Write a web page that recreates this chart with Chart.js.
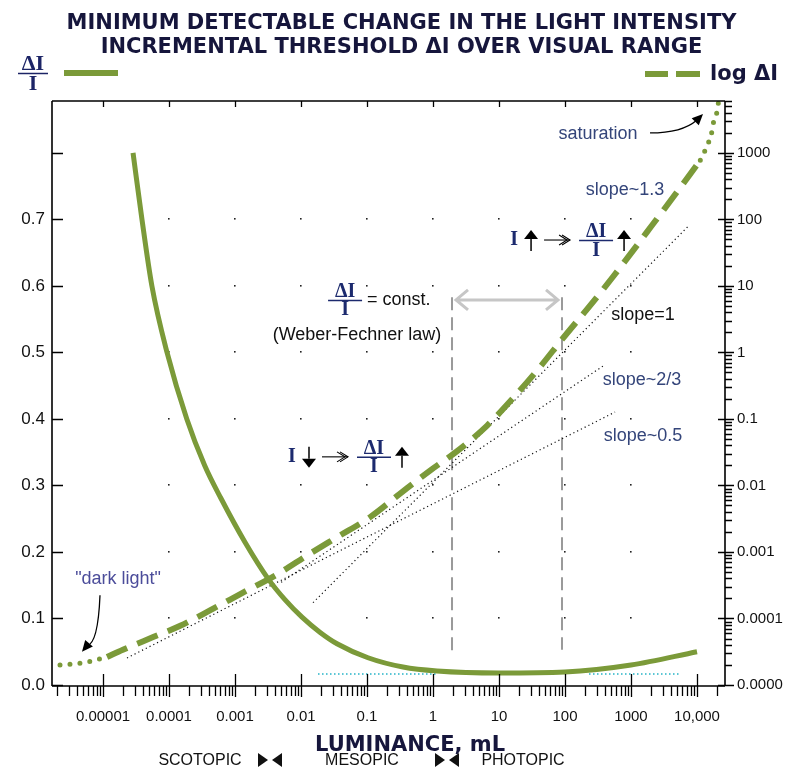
<!DOCTYPE html>
<html><head><meta charset="utf-8">
<script src="https://cdn.jsdelivr.net/npm/chart.js@4/dist/chart.umd.min.js"></script>
<style>html,body{margin:0;padding:0;background:#fff}canvas{display:block}</style>
</head><body>
<canvas id="c" width="787" height="770"></canvas>
<script>
// ---------- DATA ----------
const xTickValues = [1e-5, 1e-4, 1e-3, 1e-2, 1e-1, 1, 10, 100, 1000, 10000];
const xTickLabels = ['0.00001', '0.0001', '0.001', '0.01', '0.1', '1', '10', '100', '1000', '10,000'];
const yTickValues = [0, 0.1, 0.2, 0.3, 0.4, 0.5, 0.6, 0.7, 0.8];
const yTickLabels = ['0.0', '0.1', '0.2', '0.3', '0.4', '0.5', '0.6', '0.7', ''];
const y2TickValues = [1e-5, 1e-4, 1e-3, 1e-2, 1e-1, 1, 10, 100, 1000];
const y2TickLabels = ['0.0000', '0.0001', '0.001', '0.01', '0.1', '1', '10', '100', '1000'];

// ΔI/I (left axis) vs luminance (mL)
const ratioLum = [2.85e-5, 3.89e-5, 5.5e-5, 9.33e-5, 1.86e-4, 3.47e-4, 6.17e-4, 1.41e-3, 3.16e-3, 5.75e-3, 0.01035, 0.0195, 0.0351, 0.1035, 0.351, 1.15, 10, 100, 1000, 10000];
const ratioVal = [0.80, 0.70, 0.60, 0.50, 0.40, 0.33, 0.28, 0.215, 0.16, 0.128, 0.102, 0.079, 0.062, 0.041, 0.027, 0.021, 0.018, 0.0195, 0.030, 0.050];

// log ΔI (right axis) – dashed part
const thrLum = [1.15e-5, 2.0e-5, 5.75e-5, 1.48e-4, 4.17e-4, 1.32e-3, 4.47e-3, 0.0129, 0.0363, 0.110, 0.339, 0.891, 2.57, 6.61, 16.2, 41.7, 89.1, 282, 575, 1072, 2042, 5129, 11220];
const thrVal = [2.64e-5, 3.39e-5, 5.25e-5, 7.76e-5, 1.32e-4, 2.45e-4, 4.68e-4, 9.12e-4, 1.70e-3, 3.31e-3, 7.94e-3, 0.0166, 0.0355, 0.0794, 0.204, 0.603, 1.55, 6.17, 15.1, 33.9, 79.4, 269, 776];
// "dark light" dotted start and saturation dotted end
const darkLum = [2.23e-6, 3.39e-6, 4.81e-6, 6.81e-6, 1.15e-5];
const darkVal = [2.0e-5, 2.07e-5, 2.15e-5, 2.30e-5, 2.64e-5];
const satLum = [11220, 14790, 16600, 17660, 19860, 21040];
const satVal = [776, 1396, 1977, 2793, 3954, 5598];

// reference slope lines (right axis)
const slopeHalfLum = [2.31e-5, 573];   const slopeHalfVal = [2.55e-5, 0.127];
const slopeTwoThirdLum = [5.0e-3, 377]; const slopeTwoThirdVal = [3.5e-4, 0.625];
const slopeOneLum = [0.0152, 7311];    const slopeOneVal = [1.73e-4, 78.2];

// Weber-Fechner range markers (left axis)
const weberLum = [1.94, 90];
const weberTop = 0.583;
const weberBottom = [0.043, 0.053];
// constant ΔI/I reference (cyan dotted)
const constLum = [0.0181, 1.15, 231, 5520];
const constVal = [0.0166, 0.0166, 0.0166, 0.0166];

// ---------- STYLE ----------
const GREEN = '#7b9a39';
const NAVY = '#16163c';
const SLATE = '#34457a';
const NARROW = "'Liberation Sans Narrow', 'Arial Narrow', 'Liberation Sans', Arial, sans-serif";
const SANS = "'Liberation Sans', Arial, sans-serif";
const SERIF = "'Liberation Serif', 'Times New Roman', serif";
const X_MIN = Math.pow(10, -5.773), X_MAX = Math.pow(10, 4.424);
const Y2_MIN = 1e-5, Y2_MAX = Math.pow(10, 3.78);

const pts = (xs, ys) => xs.map((x, i) => ({ x: x, y: ys[i] }));
const line = (extra) => Object.assign({ showLine: true, pointRadius: 0, pointHoverRadius: 0, fill: false, borderWidth: 1 }, extra);

// ---------- decorations plugin ----------
function minorTicks(min, max) {
  const out = [];
  for (let e = -7; e <= 5; e++) for (let n = 1; n <= 9; n++) {
    const v = n * Math.pow(10, e);
    if (v >= min * 0.9999 && v <= max * 1.0001) out.push({ v: v, major: n === 1 });
  }
  return out;
}
function fraction(ctx, cx, barY, size, color, half) {
  ctx.save();
  ctx.fillStyle = color; ctx.strokeStyle = color;
  ctx.font = 'bold ' + size + 'px ' + SERIF;
  ctx.textAlign = 'center'; ctx.textBaseline = 'alphabetic';
  ctx.fillText('ΔI', cx, barY - 3);
  ctx.fillText('I', cx, barY + size * 0.78);
  ctx.lineWidth = 1.5;
  ctx.beginPath(); ctx.moveTo(cx - half, barY + 0.5); ctx.lineTo(cx + half, barY + 0.5); ctx.stroke();
  ctx.restore();
}
function vArrow(ctx, x, y1, y2, up) {
  ctx.save(); ctx.fillStyle = '#000'; ctx.strokeStyle = '#000'; ctx.lineWidth = 1.5;
  const headY = up ? y1 : y2, dir = up ? 1 : -1;
  ctx.beginPath(); ctx.moveTo(x - 7, headY + dir * 9); ctx.lineTo(x + 7, headY + dir * 9); ctx.lineTo(x, headY); ctx.closePath(); ctx.fill();
  ctx.beginPath(); ctx.moveTo(x, headY + dir * 9); ctx.lineTo(x, up ? y2 : y1); ctx.stroke();
  ctx.restore();
}
function hArrow(ctx, x1, x2, y) {
  ctx.save(); ctx.strokeStyle = '#000'; ctx.lineWidth = 1.1;
  ctx.beginPath(); ctx.moveTo(x1, y); ctx.lineTo(x2, y); ctx.stroke();
  ctx.beginPath(); ctx.moveTo(x2 - 8, y - 5); ctx.lineTo(x2, y); ctx.lineTo(x2 - 8, y + 5); ctx.stroke();
  ctx.beginPath(); ctx.moveTo(x2 - 11, y - 5); ctx.lineTo(x2 - 3, y); ctx.lineTo(x2 - 11, y + 5); ctx.stroke();
  ctx.restore();
}
function equation(ctx, ax, ay, firstUp) {
  ctx.save();
  ctx.fillStyle = '#1c2a6e';
  ctx.font = 'bold 20px ' + SERIF; ctx.textAlign = 'center'; ctx.textBaseline = 'middle';
  ctx.fillText('I', ax, ay);
  ctx.restore();
  vArrow(ctx, ax + 17, ay - 10, ay + 11, firstUp);
  hArrow(ctx, ax + 30, ax + 56, ay);
  fraction(ctx, ax + 82, ay, 20, '#1c2a6e', 17);
  vArrow(ctx, ax + 110, ay - 10, ay + 11, true);
}
function arrowHead(ctx, x, y, ang, len, w) {
  ctx.beginPath();
  ctx.moveTo(x, y);
  ctx.lineTo(x - len * Math.cos(ang) + w * Math.sin(ang), y - len * Math.sin(ang) - w * Math.cos(ang));
  ctx.lineTo(x - len * Math.cos(ang) - w * Math.sin(ang), y - len * Math.sin(ang) + w * Math.cos(ang));
  ctx.closePath(); ctx.fill();
}

const decor = {
  id: 'decor',
  beforeDatasetsDraw(chart) {
    const { ctx, scales: { x, y } } = chart;
    ctx.save(); ctx.fillStyle = '#222';
    for (let e = -4; e <= 3; e++) for (let k = 1; k <= 7; k++) {
      const px = Math.round(x.getPixelForValue(Math.pow(10, e)));
      const py = Math.round(y.getPixelForValue(k / 10));
      ctx.fillRect(px - 1, py - 1, 1.6, 1.6);
    }
    ctx.restore();
  },
  afterDatasetsDraw(chart) {
    const { ctx, chartArea: ca, scales: { x, y, y2 } } = chart;
    const X = v => x.getPixelForValue(v), Y = v => y.getPixelForValue(v), Y2 = v => y2.getPixelForValue(v);
    ctx.save();
    // frame
    ctx.strokeStyle = '#000'; ctx.lineWidth = 1.6;
    ctx.beginPath();
    ctx.moveTo(ca.left, ca.top); ctx.lineTo(ca.right, ca.top);
    ctx.moveTo(ca.left, ca.top); ctx.lineTo(ca.left, ca.bottom + 1);
    ctx.moveTo(ca.right, ca.top); ctx.lineTo(ca.right, ca.bottom + 1);
    ctx.moveTo(ca.left, ca.bottom + 1); ctx.lineTo(ca.right, ca.bottom + 1);
    ctx.stroke();
    ctx.lineWidth = 1.3;
    ctx.beginPath();
    // bottom & top ticks
    minorTicks(X_MIN, X_MAX).forEach(t => {
      const px = Math.round(X(t.v)) + 0.5;
      if (t.major) {
        ctx.moveTo(px, ca.bottom - 11); ctx.lineTo(px, ca.bottom + 12);
        ctx.moveTo(px, ca.top); ctx.lineTo(px, ca.top + 6);
      } else { ctx.moveTo(px, ca.bottom + 1); ctx.lineTo(px, ca.bottom + 11); }
    });
    // left ticks
    yTickValues.forEach(v => { const py = Math.round(Y(v)) + 0.5; ctx.moveTo(ca.left, py); ctx.lineTo(ca.left + 11, py); });
    // right ticks
    minorTicks(Y2_MIN, Y2_MAX).forEach(t => {
      const py = Math.round(Y2(t.v)) + 0.5;
      if (t.major) { ctx.moveTo(ca.right - 7, py); ctx.lineTo(ca.right + 9, py); }
      else { ctx.moveTo(ca.right, py); ctx.lineTo(ca.right + 7, py); }
    });
    ctx.stroke();

    // Weber-Fechner range double arrow
    const ax1 = X(weberLum[0]) + 4, ax2 = X(weberLum[1]) - 4, ay = Y(0.579);
    ctx.strokeStyle = '#c6c6c6'; ctx.lineWidth = 3; ctx.lineJoin = 'miter';
    ctx.beginPath(); ctx.moveTo(ax1, ay); ctx.lineTo(ax2, ay);
    ctx.moveTo(ax1 + 12, ay - 10); ctx.lineTo(ax1, ay); ctx.lineTo(ax1 + 12, ay + 10);
    ctx.moveTo(ax2 - 12, ay - 10); ctx.lineTo(ax2, ay); ctx.lineTo(ax2 - 12, ay + 10);
    ctx.stroke();

    // text annotations
    ctx.textAlign = 'center'; ctx.textBaseline = 'middle';
    ctx.font = '18px ' + SANS;
    const txt = (s, lum, v, col, align) => { ctx.fillStyle = col; ctx.textAlign = align || 'center'; ctx.fillText(s, X(lum), Y(v)); };
    txt('saturation', 316, 0.8286, SLATE);
    txt('slope~1.3', 811, 0.744, SLATE);
    txt('slope=1', 1521, 0.556, '#111');
    txt('slope~2/3', 1469, 0.459, SLATE);
    txt('slope~0.5', 1521, 0.374, SLATE);
    txt('"dark light"', 1.69e-5, 0.159, '#4b4c9a');
    txt('(Weber-Fechner law)', 0.0705, 0.526, '#111');
    // ΔI/I = const.
    const fx = X(0.0465), fy = Y(0.579);
    fraction(ctx, fx, fy, 20, '#1c2a6e', 17);
    ctx.fillStyle = '#111'; ctx.textAlign = 'left'; ctx.font = '18px ' + SANS;
    ctx.fillText('= const.', fx + 22, fy);
    // equations
    equation(ctx, X(16.9), Y(0.669), true);
    equation(ctx, X(7.3e-3), Y(0.343), false);

    // saturation arrow
    ctx.strokeStyle = '#000'; ctx.fillStyle = '#000'; ctx.lineWidth = 1.3;
    let sx = X(1941), sy = Y(0.830), ex = X(12330), ey = Y(0.8586);
    ctx.beginPath(); ctx.moveTo(sx, sy); ctx.quadraticCurveTo(sx + 32, sy, ex - 6, ey + 6); ctx.stroke();
    arrowHead(ctx, ex, ey, Math.atan2(ey - (ey + 6), ex - (ex - 6)), 11, 5);
    // dark light arrow
    sx = X(9.0e-6); sy = Y(0.135); ex = X(4.8e-6); ey = Y(0.050);
    ctx.beginPath(); ctx.moveTo(sx, sy); ctx.quadraticCurveTo(sx - 2, ey - 8, ex + 5, ey - 6); ctx.stroke();
    arrowHead(ctx, ex, ey, Math.atan2(6, -5), 11, 5);

    // axis title and vision ranges
    ctx.fillStyle = NAVY; ctx.textAlign = 'center'; ctx.textBaseline = 'middle';
    ctx.font = 'bold 21px DejaVu Sans, sans-serif';
    const bottom = x.bottom;
    ctx.fillText('LUMINANCE, mL', X(0.449), bottom - 24);
    ctx.fillStyle = '#111'; ctx.font = '16px ' + SANS;
    ctx.fillText('SCOTOPIC', X(2.95e-4), bottom - 9);
    ctx.fillText('MESOPIC', X(0.084), bottom - 9);
    ctx.fillText('PHOTOPIC', X(23.1), bottom - 9);
    [3.39e-3, 1.63].forEach(l => {
      const c = X(l), cy = bottom - 10;
      ctx.beginPath(); ctx.moveTo(c - 12, cy - 7); ctx.lineTo(c - 2, cy); ctx.lineTo(c - 12, cy + 7); ctx.closePath(); ctx.fill();
      ctx.beginPath(); ctx.moveTo(c + 12, cy - 7); ctx.lineTo(c + 2, cy); ctx.lineTo(c + 12, cy + 7); ctx.closePath(); ctx.fill();
    });

    // legend
    fraction(ctx, 33, 73, 22, '#1c2466', 15);
    ctx.strokeStyle = GREEN; ctx.lineWidth = 6; ctx.setLineDash([]);
    ctx.beginPath(); ctx.moveTo(64, 73); ctx.lineTo(118, 73); ctx.stroke();
    ctx.beginPath(); ctx.moveTo(645, 74); ctx.lineTo(668, 74); ctx.moveTo(676, 74); ctx.lineTo(700, 74); ctx.stroke();
    ctx.fillStyle = NAVY; ctx.font = 'bold 21px DejaVu Sans, sans-serif'; ctx.textAlign = 'left';
    ctx.fillText('log ΔI', 710, 75);
    ctx.restore();
  }
};

new Chart(document.getElementById('c'), {
  type: 'scatter',
  data: {
    datasets: [
      line({ label: 'ΔI/I', data: pts(ratioLum, ratioVal), yAxisID: 'y', borderColor: GREEN, borderWidth: 5, cubicInterpolationMode: 'monotone' }),
      line({ label: 'log ΔI', data: pts(thrLum, thrVal), yAxisID: 'y2', borderColor: GREEN, borderWidth: 6, borderDash: [22, 11], cubicInterpolationMode: 'monotone' }),
      line({ label: 'dark light', data: pts(darkLum, darkVal), yAxisID: 'y2', borderColor: GREEN, borderWidth: 5, borderDash: [0, 10], borderCapStyle: 'round', cubicInterpolationMode: 'monotone' }),
      line({ label: 'saturation', data: pts(satLum, satVal), yAxisID: 'y2', borderColor: GREEN, borderWidth: 5, borderDash: [0, 10], borderCapStyle: 'round', cubicInterpolationMode: 'monotone' }),
      line({ label: 'slope 0.5', data: pts(slopeHalfLum, slopeHalfVal), yAxisID: 'y2', borderColor: '#111', borderWidth: 1.2, borderDash: [1.2, 3] }),
      line({ label: 'slope 2/3', data: pts(slopeTwoThirdLum, slopeTwoThirdVal), yAxisID: 'y2', borderColor: '#111', borderWidth: 1.2, borderDash: [1.2, 3] }),
      line({ label: 'slope 1', data: pts(slopeOneLum, slopeOneVal), yAxisID: 'y2', borderColor: '#111', borderWidth: 1.2, borderDash: [1.2, 3] }),
      line({ label: 'range low', data: [{ x: weberLum[0], y: weberTop }, { x: weberLum[0], y: weberBottom[0] }], yAxisID: 'y', borderColor: '#9a9a9a', borderWidth: 2, borderDash: [13, 7] }),
      line({ label: 'range high', data: [{ x: weberLum[1], y: weberTop }, { x: weberLum[1], y: weberBottom[1] }], yAxisID: 'y', borderColor: '#9a9a9a', borderWidth: 2, borderDash: [13, 7] }),
      line({ label: 'const', data: [...pts(constLum.slice(0, 2), constVal.slice(0, 2)), { x: 20, y: null }, ...pts(constLum.slice(2), constVal.slice(2))], yAxisID: 'y', borderColor: '#22b2c6', borderWidth: 1.5, borderDash: [1.5, 2.5], spanGaps: false })
    ]
  },
  options: {
    responsive: false, animation: false, devicePixelRatio: 1,
    events: [],
    layout: { padding: { left: 16, right: 0, top: 0, bottom: 0 }, autoPadding: false },
    plugins: {
      legend: { display: false }, tooltip: { enabled: false },
      title: {
        display: true, color: NAVY,
        text: ['MINIMUM DETECTABLE CHANGE IN THE LIGHT INTENSITY', 'INCREMENTAL THRESHOLD ΔI OVER VISUAL RANGE'],
        font: { family: 'DejaVu Sans', weight: 'bold', size: 21, lineHeight: 1.143 },
        padding: { top: 12, bottom: 41 }
      }
    },
    scales: {
      x: {
        type: 'logarithmic', position: 'bottom', min: X_MIN, max: X_MAX,
        grid: { display: false, drawTicks: false, tickLength: 0 }, border: { display: false },
        afterBuildTicks: s => { s.ticks = xTickValues.map(v => ({ value: v, major: true })); },
        afterFit: s => { s.height = 85; },
        ticks: { autoSkip: false, maxRotation: 0, minRotation: 0, padding: 23, color: '#111', font: { family: NARROW, size: 15 }, callback: (v, i) => xTickLabels[i] }
      },
      y: {
        type: 'linear', position: 'left', min: 0, max: 0.878,
        grid: { display: false, drawTicks: false, tickLength: 0 }, border: { display: false },
        afterBuildTicks: s => { s.ticks = yTickValues.map(v => ({ value: v })); },
        afterFit: s => { s.width = 36; },
        ticks: { autoSkip: false, padding: 7, color: '#111', font: { family: NARROW, size: 17 }, callback: (v, i) => yTickLabels[i] }
      },
      y2: {
        type: 'logarithmic', position: 'right', min: Y2_MIN, max: Y2_MAX,
        grid: { display: false, drawTicks: false, tickLength: 0 }, border: { display: false },
        afterBuildTicks: s => { s.ticks = y2TickValues.map(v => ({ value: v, major: true })); },
        afterFit: s => { s.width = 62; },
        ticks: { autoSkip: false, padding: 12, color: '#111', font: { family: NARROW, size: 15 }, callback: (v, i) => y2TickLabels[i] }
      }
    }
  },
  plugins: [decor]
});
</script>
</body></html>
